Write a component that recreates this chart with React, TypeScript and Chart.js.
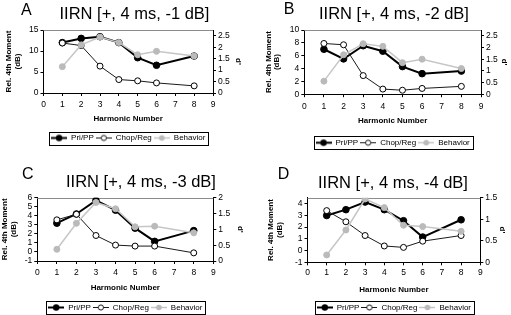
import React, { useEffect, useRef } from "react";
import { Chart, registerables } from "chart.js";

Chart.register(...registerables);

// ---------- data ----------
const harmonics = [1, 2, 3, 4, 5, 6, 8];
const seriesNames = ["Pri/PP", "Chop/Reg", "Behavior"];
const xTitle = "Harmonic Number";
const yTitle = ["Rel. 4th Moment", "(dB)"];
const y1Title = "d'";

const titleA = "IIRN [+, 4 ms, -1 dB]";
const titleB = "IIRN [+, 4 ms, -2 dB]";
const titleC = "IIRN [+, 4 ms, -3 dB]";
const titleD = "IIRN [+, 4 ms, -4 dB]";

const priA = [12.0, 13.0, 13.4, 12.0, 8.4, 6.6, 8.8];
const chopA = [11.9, 11.3, 6.4, 3.2, 2.9, 2.4, 1.7];
const behA = [1.15, 2.1, 2.44, 2.2, 1.67, 1.82, 1.62];

const priB = [7.0, 5.5, 7.55, 6.7, 4.3, 3.2, 3.6];
const chopB = [7.9, 7.7, 2.9, 0.8, 0.62, 0.9, 1.22];
const behB = [0.56, 1.69, 2.16, 2.05, 1.35, 1.5, 1.1];

const priC = [3.18, 4.2, 5.7, 4.62, 2.63, 1.17, 2.36];
const chopC = [3.55, 4.17, 1.82, 0.76, 0.65, 0.65, -0.1];
const behC = [0.37, 1.19, 1.85, 1.65, 1.08, 1.1, 0.89];

const priD = [2.98, 3.48, 4.13, 3.48, 2.54, 1.15, 2.62];
const chopD = [3.4, 2.45, 1.28, 0.39, 0.27, 0.8, 1.28];
const behD = [0.17, 0.75, 1.47, 1.27, 0.86, 0.83, 0.72];

// axis ranges: [min, max, step]
const xRange = [0, 9, 1];
const leftRangeA = [0, 15, 5];
const rightRangeA = [0, 2.75, 0.5];
const leftRangeB = [0, 10, 2];
const rightRangeB = [0, 2.75, 0.5];
const leftRangeC = [-1, 6, 1];
const rightRangeC = [0, 2, 0.5];
const leftRangeD = [-1, 4.5, 1];
const rightRangeD = [0, 1.5, 0.5];

// ---------- layout / style ----------
const FONT = "'Liberation Sans', Arial, Helvetica, sans-serif";
const TITLE_LH = 8.8;

type PanelCfg = {
  letter: string;
  title: string;
  pri: number[];
  chop: number[];
  beh: number[];
  left: number[];
  right: number[];
  x: number;
  y: number;
  w: number;
  h: number;
  plotL: number;
  plotR: number;
  plotT: number;
  plotB: number;
  tickPad: number;
  xTitleCY: number;
  legendCY: number;
  yTitleCX: number;
  y1TitleCX: number;
  titleCX: number;
  titleCY: number;
  letterX: number;
  letterTop: number;
};

const panels: PanelCfg[] = [
  {
    letter: "A", title: titleA, pri: priA, chop: chopA, beh: behA, left: leftRangeA, right: rightRangeA,
    x: 0, y: 0, w: 255, h: 155, plotL: 43.5, plotR: 213, plotT: 30, plotB: 93, tickPad: 3.6,
    xTitleCY: 118.5, legendCY: 138, yTitleCX: 9, y1TitleCX: 238,
    titleCX: 134.5, titleCY: 13.3, letterX: 21, letterTop: 4,
  },
  {
    letter: "B", title: titleB, pri: priB, chop: chopB, beh: behB, left: leftRangeB, right: rightRangeB,
    x: 255, y: 0, w: 256, h: 155, plotL: 49.3, plotR: 226, plotT: 30, plotB: 94.2, tickPad: 4.5,
    xTitleCY: 121, legendCY: 142.7, yTitleCX: 13.3, y1TitleCX: 249,
    titleCX: 394, titleCY: 13.5, letterX: 283.8, letterTop: 3.5,
  },
  {
    letter: "C", title: titleC, pri: priC, chop: chopC, beh: behC, left: leftRangeC, right: rightRangeC,
    x: 0, y: 155, w: 255, h: 160, plotL: 37.3, plotR: 213.3, plotT: 42.7, plotB: 106, tickPad: 3.6,
    xTitleCY: 132.3, legendCY: 152.5, yTitleCX: 4.6, y1TitleCX: 240.5,
    titleCX: 141, titleCY: 181, letterX: 21.9, letterTop: 167.7,
  },
  {
    letter: "D", title: titleD, pri: priD, chop: chopD, beh: behD, left: leftRangeD, right: rightRangeD,
    x: 255, y: 155, w: 256, h: 160, plotL: 52.5, plotR: 225.3, plotT: 42.7, plotB: 107.3, tickPad: 2.5,
    xTitleCY: 134.5, legendCY: 152.5, yTitleCX: 16, y1TitleCX: 247.5,
    titleCX: 393, titleCY: 182, letterX: 277.8, letterTop: 168.3,
  },
];

const PRI_COLOR = "#000000";
const CHOP_COLOR = "#1a1a1a";
const BEH_LINE = "#c6c6c6";
const BEH_POINT = "#bababa";

function makeSample(kind: number): HTMLCanvasElement {
  const c = document.createElement("canvas");
  c.width = 16;
  c.height = 9;
  const g = c.getContext("2d")!;
  const cy = 4.5;
  g.beginPath();
  g.moveTo(0, cy);
  g.lineTo(16, cy);
  if (kind === 0) {
    g.strokeStyle = PRI_COLOR; g.lineWidth = 2; g.stroke();
    g.beginPath(); g.arc(8, cy, 3.2, 0, Math.PI * 2); g.fillStyle = PRI_COLOR; g.fill();
  } else if (kind === 1) {
    g.strokeStyle = CHOP_COLOR; g.lineWidth = 1; g.stroke();
    g.beginPath(); g.arc(8, cy, 2.6, 0, Math.PI * 2); g.fillStyle = "#fff"; g.fill();
    g.strokeStyle = "#000"; g.lineWidth = 0.9; g.stroke();
  } else {
    g.strokeStyle = BEH_LINE; g.lineWidth = 1.5; g.stroke();
    g.beginPath(); g.arc(8, cy, 2.8, 0, Math.PI * 2); g.fillStyle = BEH_POINT; g.fill();
  }
  return c;
}

const stepFilter = (step: number) => (s: any) => {
  s.ticks = s.ticks.filter((t: any) => Math.abs(t.value / step - Math.round(t.value / step)) < 1e-6);
};

const framePlugin = {
  id: "frameTop",
  beforeDatasetsDraw(chart: any) {
    const { ctx, chartArea } = chart;
    ctx.save();
    ctx.strokeStyle = "#8c8c8c";
    ctx.lineWidth = 1;
    const y = Math.round(chartArea.top) + 0.5;
    ctx.beginPath();
    ctx.moveTo(chartArea.left, y);
    ctx.lineTo(chartArea.right, y);
    ctx.stroke();
    ctx.restore();
  },
};

const legendBoxPlugin = {
  id: "legendBox",
  afterDraw(chart: any) {
    const lg = chart.legend;
    if (!lg || !lg.legendHitBoxes || !lg.legendHitBoxes.length) return;
    const hb = lg.legendHitBoxes;
    const left = Math.min(...hb.map((h: any) => h.left)) - 2;
    const right = Math.max(...hb.map((h: any) => h.left + h.width)) + 3;
    const top = hb[0].top - 2.5;
    const bottom = hb[0].top + hb[0].height + 2.5;
    const ctx = chart.ctx;
    ctx.save();
    ctx.strokeStyle = "#000";
    ctx.lineWidth = 1;
    ctx.strokeRect(Math.round(left) + 0.5, Math.round(top) + 0.5, Math.round(right - left), Math.round(bottom - top));
    ctx.restore();
  },
};

function Panel({ cfg }: { cfg: PanelCfg }) {
  const ref = useRef<HTMLCanvasElement | null>(null);

  useEffect(() => {
    if (!ref.current) return;
    const legendFont = 8;
    const legendPad = 2;
    const xH = cfg.legendCY - (legendPad + legendFont / 2) - cfg.plotB;
    const avail = cfg.h - cfg.plotB - xH;
    const legendNat = legendFont + legendPad + 10;
    const legendH = Math.min(avail, legendNat);
    const padBottom = Math.max(0, avail - legendH);
    const xTitlePad = cfg.plotB + xH - cfg.xTitleCY - TITLE_LH / 2;
    const yTitlePad = Math.max(0, cfg.yTitleCX - TITLE_LH / 2);
    const y1TitlePad = Math.max(0, cfg.w - cfg.y1TitleCX - TITLE_LH / 2);

    const tickFont = { family: FONT, size: 8.5, lineHeight: 1.2 };
    const titleFont = { family: FONT, size: 8, weight: "bold" as const, lineHeight: 1.1 };
    const gridOpts = { drawOnChartArea: false, drawTicks: true, tickLength: 3, color: "#000", lineWidth: 1 };
    const borderOpts = { display: true, color: "#000", width: 1 };
    const samples = [makeSample(0), makeSample(1), makeSample(2)];
    const pts = (arr: number[]) => harmonics.map((x, i) => ({ x, y: arr[i] }));

    const chart = new Chart(ref.current, {
      type: "line",
      data: {
        datasets: [
          {
            label: seriesNames[0], data: pts(cfg.pri), yAxisID: "y",
            borderColor: PRI_COLOR, backgroundColor: PRI_COLOR, borderWidth: 2,
            pointRadius: 3.3, pointBackgroundColor: PRI_COLOR, pointBorderColor: PRI_COLOR, pointBorderWidth: 1,
            tension: 0, order: 2,
          },
          {
            label: seriesNames[1], data: pts(cfg.chop), yAxisID: "y",
            borderColor: CHOP_COLOR, backgroundColor: "#fff", borderWidth: 1,
            pointRadius: 3, pointBackgroundColor: "#fff", pointBorderColor: "#000", pointBorderWidth: 1,
            tension: 0, order: 1,
          },
          {
            label: seriesNames[2], data: pts(cfg.beh), yAxisID: "y1",
            borderColor: BEH_LINE, backgroundColor: BEH_POINT, borderWidth: 1.5,
            pointRadius: 3, pointBackgroundColor: BEH_POINT, pointBorderColor: BEH_POINT, pointBorderWidth: 1,
            tension: 0, order: 0,
          },
        ],
      },
      options: {
        animation: false,
        responsive: false,
        maintainAspectRatio: false,
        devicePixelRatio: 1,
        events: [],
        layout: { padding: { left: 0, right: 0, top: cfg.plotT, bottom: padBottom } },
        scales: {
          x: {
            type: "linear", position: "bottom", min: xRange[0], max: xRange[1],
            ticks: { stepSize: xRange[2], padding: cfg.tickPad, font: tickFont, color: "#000", maxRotation: 0, autoSkip: false, includeBounds: false, callback: (v: any) => String(v) },
            grid: gridOpts, border: borderOpts,
            title: { display: true, text: xTitle, font: titleFont, color: "#000", padding: { top: 0, bottom: xTitlePad } },
            afterFit: (s: any) => { s.height = xH; },
          },
          y: {
            type: "linear", position: "left", min: cfg.left[0], max: cfg.left[1],
            ticks: { stepSize: cfg.left[2], padding: 2, font: tickFont, color: "#000", autoSkip: false, includeBounds: false, callback: (v: any) => String(v) },
            afterBuildTicks: stepFilter(cfg.left[2]),
            grid: gridOpts, border: borderOpts,
            title: { display: true, text: yTitle, font: titleFont, color: "#000", padding: { top: yTitlePad, bottom: 0 } },
            afterFit: (s: any) => { s.width = cfg.plotL; },
          },
          y1: {
            type: "linear", position: "right", min: cfg.right[0], max: cfg.right[1],
            ticks: { stepSize: cfg.right[2], padding: 2, font: tickFont, color: "#000", autoSkip: false, includeBounds: false, callback: (v: any) => String(v) },
            afterBuildTicks: stepFilter(cfg.right[2]),
            grid: gridOpts, border: borderOpts,
            title: { display: true, text: y1Title, font: titleFont, color: "#000", padding: { top: y1TitlePad, bottom: 0 } },
            afterFit: (s: any) => { s.width = cfg.w - cfg.plotR; },
          },
        },
        plugins: {
          tooltip: { enabled: false },
          legend: {
            display: true,
            position: "bottom",
            fullSize: false,
            align: "center",
            maxHeight: legendH,
            labels: {
              usePointStyle: true,
              pointStyleWidth: 16,
              boxHeight: legendFont,
              padding: legendPad,
              color: "#000",
              font: { family: FONT, size: legendFont },
              generateLabels: (ch: any) =>
                ch.data.datasets.map((ds: any, i: number) => ({
                  text: ds.label,
                  datasetIndex: i,
                  pointStyle: samples[i],
                  fillStyle: ds.borderColor,
                  strokeStyle: ds.borderColor,
                  lineWidth: 0,
                  hidden: false,
                  fontColor: "#000",
                })),
            },
          },
        },
      } as any,
      plugins: [framePlugin, legendBoxPlugin],
    });
    return () => chart.destroy();
  }, [cfg]);

  return (
    <canvas
      ref={ref}
      width={cfg.w}
      height={cfg.h}
      style={{ position: "absolute", left: cfg.x, top: cfg.y, width: cfg.w, height: cfg.h }}
    />
  );
}

export default function App() {
  const titleSize = 16.5;
  const letterSize = 16;
  return (
    <div
      style={{
        position: "absolute", left: 0, top: 0, width: 511, height: 315,
        background: "#fff", overflow: "hidden", fontFamily: FONT, color: "#000",
      }}
    >
      {panels.map((p) => (
        <Panel key={p.letter} cfg={p} />
      ))}
      {panels.map((p) => (
        <React.Fragment key={"t" + p.letter}>
          <div
            style={{
              position: "absolute", left: p.titleCX - 110, width: 220,
              top: p.titleCY - 0.4885 * titleSize, fontSize: titleSize, lineHeight: titleSize + "px",
              textAlign: "center", whiteSpace: "nowrap",
            }}
          >
            {p.title}
          </div>
          <div
            style={{
              position: "absolute", left: p.letterX, top: p.letterTop - 2.1,
              fontSize: letterSize, lineHeight: letterSize + "px", whiteSpace: "nowrap",
            }}
          >
            {p.letter}
          </div>
        </React.Fragment>
      ))}
    </div>
  );
}
